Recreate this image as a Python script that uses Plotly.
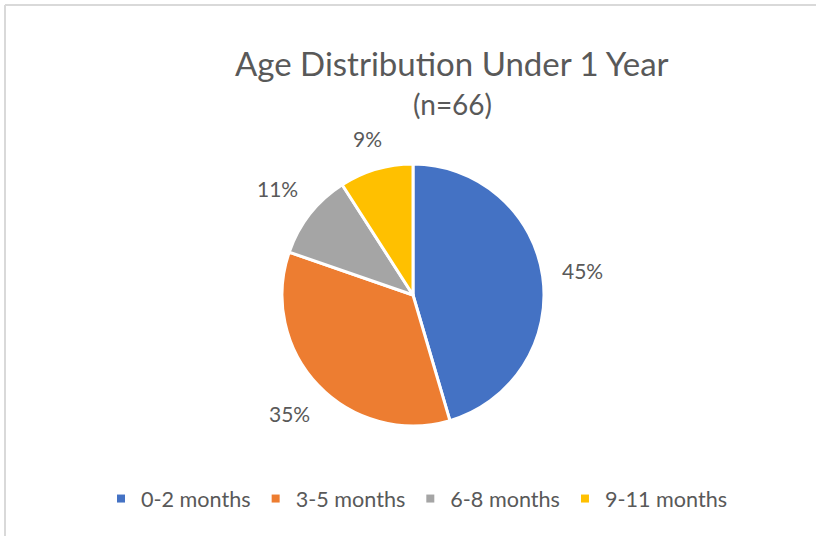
import math
import plotly.graph_objects as go

categories = ["0-2 months", "3-5 months", "6-8 months", "9-11 months"]
counts = [30, 23, 7, 6]
colors = ["#4472C4", "#ED7D31", "#A5A5A5", "#FFC000"]
title_text = "Age Distribution Under 1 Year"
subtitle_text = "(n=66)"

W, H = 816, 536
cx, cy, R = 413, 295, 131          # pie centre / radius in pixels (from top)
gap = 18                           # distance label box -> pie edge
FONT = "Lato"
TXT = "#595959"
LBL = 21

fig = go.Figure()
fig.add_trace(go.Pie(
    labels=categories, values=counts, sort=False, direction="clockwise",
    rotation=0, textinfo="none", hoverinfo="label+percent",
    marker=dict(colors=colors, line=dict(color="white", width=3)),
    showlegend=False,
    domain=dict(x=[(cx - R) / W, (cx + R) / W],
                y=[(H - cy - R) / H, (H - cy + R) / H]),
))

# legend entries
for name, col in zip(categories, colors):
    fig.add_trace(go.Scatter(x=[None], y=[None], mode="markers", name=name,
                             marker=dict(symbol="square", size=8, color=col)))

total = sum(counts)
annotations = []
cum = 0
for v in counts:
    frac = v / total
    mid = (cum + frac / 2) * 360
    cum += frac
    ang = math.radians(90 - mid)
    txt = f"{round(frac * 100)}%"
    hw = len(txt) * LBL * 0.33
    hh = LBL * 0.5
    dist = R + gap + abs(math.cos(ang)) * hw + abs(math.sin(ang)) * hh
    x = (cx + dist * math.cos(ang)) / W
    y = (H - cy + dist * math.sin(ang)) / H
    annotations.append(dict(x=x, y=y, xref="paper", yref="paper",
                            xanchor="center", yanchor="middle",
                            text=txt, showarrow=False,
                            font=dict(family=FONT, size=LBL, color=TXT)))

annotations.append(dict(x=452 / W, y=(H - 63) / H, xref="paper", yref="paper",
                        xanchor="center", yanchor="middle",
                        text=title_text, showarrow=False,
                        font=dict(family=FONT, size=33, color=TXT)))
annotations.append(dict(x=452 / W, y=(H - 104) / H, xref="paper", yref="paper",
                        xanchor="center", yanchor="middle",
                        text=subtitle_text, showarrow=False,
                        font=dict(family=FONT, size=28, color=TXT)))

fig.update_layout(
    width=W, height=H,
    margin=dict(l=0, r=0, t=0, b=0),
    paper_bgcolor="white", plot_bgcolor="white",
    xaxis=dict(visible=False), yaxis=dict(visible=False),
    annotations=annotations,
    legend=dict(orientation="h", x=417 / W, xanchor="center",
                y=(H - 499) / H, yanchor="middle",
                font=dict(family=FONT, size=21.6, color=TXT),
                itemwidth=30, bgcolor="rgba(0,0,0,0)"),
    shapes=[
        dict(type="line", xref="paper", yref="paper", x0=5 / W, x1=1, y0=(H - 5) / H, y1=(H - 5) / H,
             line=dict(color="#D9D9D9", width=2)),
        dict(type="line", xref="paper", yref="paper", x0=5 / W, x1=5 / W, y0=0, y1=(H - 5) / H,
             line=dict(color="#D9D9D9", width=2)),
    ],
)

fig.write_html("out.html", config={"displayModeBar": False},
               post_script="document.body.style.margin='0';document.body.style.overflow='hidden';")
